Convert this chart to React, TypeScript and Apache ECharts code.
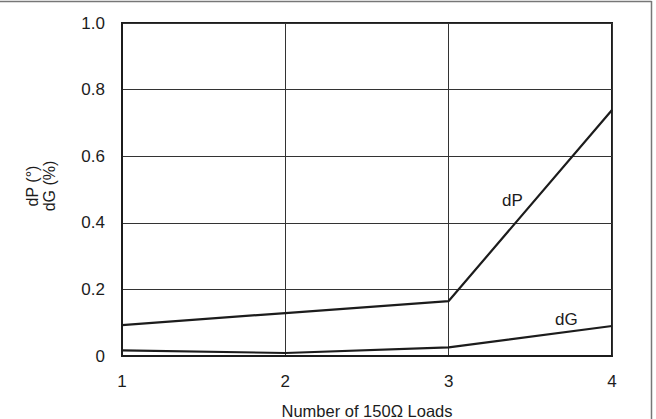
import React, { useEffect, useRef } from "react";
import * as echarts from "echarts";

const loads = [1, 2, 3, 4];
const dP = [0.093, 0.129, 0.165, 0.739];
const dG = [0.017, 0.009, 0.026, 0.09];
const xTitle = "Number of 150Ω Loads";
const yTitle = "dP (°)\ndG (%)";

const FONT = "'Liberation Sans', Arial, sans-serif";
const INK = "#1c1c1c";
const FS = 16.5;
const TICK_FS = 17;

export default function App() {
  const ref = useRef<HTMLDivElement>(null);
  useEffect(() => {
    if (!ref.current) return;
    const chart = echarts.init(ref.current, undefined, { renderer: "svg" });
    chart.setOption({
      animation: false,
      backgroundColor: "#fff",
      textStyle: { fontFamily: FONT },
      grid: {
        left: 122,
        top: 23,
        right: 44,
        bottom: 63,
        outerBoundsMode: "none",
        containLabel: false,
        show: true,
        borderColor: INK,
        borderWidth: 2,
      },
      xAxis: {
        type: "value",
        min: 1,
        max: 4,
        interval: 1,
        name: xTitle,
        nameLocation: "middle",
        nameGap: 46,
        nameTextStyle: { fontSize: FS, color: INK, fontFamily: FONT },
        axisLine: { show: true, lineStyle: { color: INK, width: 2 } },
        axisTick: { show: false },
        axisLabel: { fontSize: TICK_FS, color: INK, margin: 17, fontFamily: FONT },
        splitLine: { show: true, lineStyle: { color: "#333", width: 1 } },
      },
      yAxis: {
        type: "value",
        min: 0,
        max: 1,
        interval: 0.2,
        axisLine: { show: true, lineStyle: { color: INK, width: 2 } },
        axisTick: { show: false },
        axisLabel: {
          fontSize: TICK_FS,
          color: INK,
          margin: 17,
          fontFamily: FONT,
          formatter: (v: number) => (v === 0 ? "0" : v.toFixed(1)),
        },
        splitLine: { show: true, lineStyle: { color: "#333", width: 1 } },
      },
      graphic: [
        {
          type: "text",
          x: 41,
          y: 186,
          rotation: Math.PI / 2,
          style: {
            text: yTitle,
            fontSize: 16,
            fontFamily: FONT,
            fill: INK,
            align: "center",
            verticalAlign: "middle",
            lineHeight: 17,
          },
        },
        {
          type: "line",
          shape: { x1: 0, y1: 1.5, x2: 651.5, y2: 1.5 },
          style: { stroke: "#777", lineWidth: 1.5 },
        },
        {
          type: "line",
          shape: { x1: 651.5, y1: 1, x2: 651.5, y2: 419 },
          style: { stroke: "#777", lineWidth: 1.5 },
        },
      ],
      series: [
        {
          name: "dP",
          type: "line",
          data: loads.map((x, i) => [x, dP[i]]),
          symbol: "none",
          lineStyle: { color: INK, width: 2.2 },
          markPoint: {
            symbol: "circle",
            symbolSize: 0,
            data: [{ coord: [3.39, 0.468], value: "dP" }],
            label: {
              show: true,
              formatter: "dP",
              fontSize: 17,
              color: INK,
              fontFamily: FONT,
              position: "inside",
            },
          },
        },
        {
          name: "dG",
          type: "line",
          data: loads.map((x, i) => [x, dG[i]]),
          symbol: "none",
          lineStyle: { color: INK, width: 2.2 },
          markPoint: {
            symbol: "circle",
            symbolSize: 0,
            data: [{ coord: [3.72, 0.111], value: "dG" }],
            label: {
              show: true,
              formatter: "dG",
              fontSize: 17,
              color: INK,
              fontFamily: FONT,
              position: "inside",
            },
          },
        },
      ],
    });
    return () => chart.dispose();
  }, []);
  return <div ref={ref} style={{ width: 656, height: 419, position: "fixed", left: 0, top: 0 }} />;
}
